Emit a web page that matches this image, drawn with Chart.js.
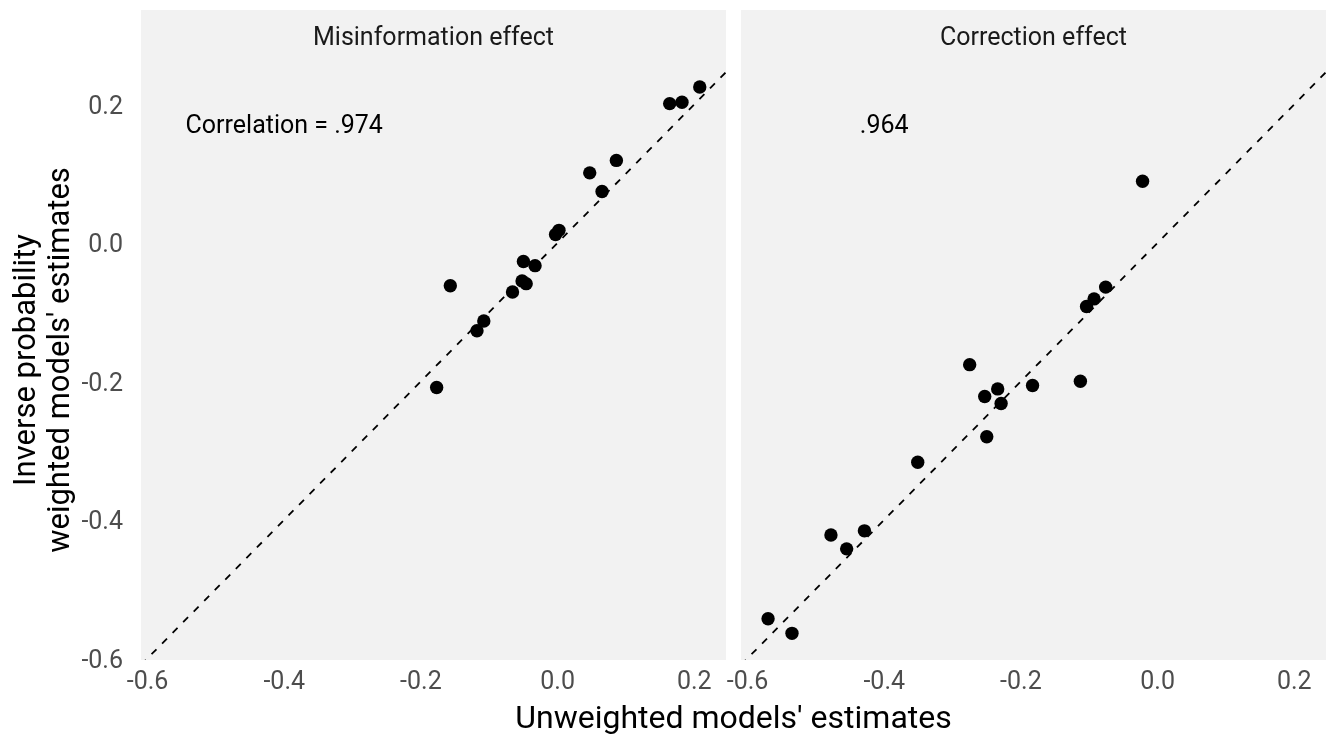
<!DOCTYPE html>
<html>
<head>
<meta charset="utf-8">
<script src="https://cdn.jsdelivr.net/npm/chart.js@4/dist/chart.umd.min.js"></script>
<style>
  body { margin: 0; background: #fff; }
  #wrap { position: relative; width: 1327px; height: 736px; overflow: hidden; }
  canvas { position: absolute; top: 0; }
  #c1 { left: 0; }
  #c2 { left: 700px; }
  #xTitle {
    position: absolute; left: 141px; width: 1185px; top: 699px;
    text-align: center; font: 32px Roboto, sans-serif; line-height: 36px; color: #000;
  }
</style>
</head>
<body>
<div id="wrap">
  <canvas id="c1" width="726" height="736"></canvas>
  <canvas id="c2" width="627" height="736"></canvas>
  <div id="xTitle">Unweighted models' estimates</div>
</div>
<script>
// Estimativas por estudo: modelo sem pesos (x) vs. ponderado por IPW (y)
const misX = [0.208, 0.164, 0.182, 0.047, 0.086, 0.065, 0.002, -0.003, -0.050, -0.033, -0.157, -0.052, -0.046, -0.066, -0.108, -0.118, -0.177];
const misY = [0.225, 0.201, 0.203, 0.101, 0.119, 0.074, 0.018, 0.012, -0.027, -0.033, -0.062, -0.055, -0.059, -0.071, -0.113, -0.127, -0.209];
const corX = [-0.275, -0.183, -0.234, -0.253, -0.229, -0.250, -0.351, -0.478, -0.429, -0.455, -0.570, -0.535, -0.022, -0.076, -0.093, -0.104, -0.113];
const corY = [-0.176, -0.206, -0.211, -0.222, -0.232, -0.280, -0.317, -0.422, -0.416, -0.442, -0.543, -0.564, 0.089, -0.064, -0.081, -0.092, -0.200];

const panelTitles = ['Misinformation effect', 'Correction effect'];
const corrLabels = ['Correlation = .974', '.964'];
const corrPos = { x: -0.4, y: 0.168 };

const xTicks = [-0.6, -0.4, -0.2, 0, 0.2];
const yTicks = [-0.6, -0.4, -0.2, 0, 0.2];
const xLim = [-0.6096, 0.2464];
const yLim = [-0.6025, 0.264];
const yTitle = ['Inverse probability', "weighted models' estimates"];

const FONT = 'Roboto';
const PANEL_BG = '#f2f2f2';
const STRIP_TOP = 10;

// fundo cinza do painel + faixa do título, e o texto da correlação
const panelPlugin = {
    id: 'panelBg',
    beforeDraw(chart) {
        const { ctx, chartArea } = chart;
        ctx.save();
        ctx.fillStyle = PANEL_BG;
        ctx.fillRect(chartArea.left, STRIP_TOP, chartArea.right - chartArea.left, chartArea.bottom - STRIP_TOP);
        ctx.restore();
    },
    afterDatasetsDraw(chart, args, opts) {
        const { ctx, scales } = chart;
        ctx.save();
        ctx.font = '25px ' + FONT;
        ctx.fillStyle = '#000';
        ctx.textAlign = 'center';
        ctx.textBaseline = 'middle';
        ctx.fillText(opts.text, scales.x.getPixelForValue(corrPos.x), scales.y.getPixelForValue(corrPos.y));
        ctx.restore();
    }
};

function makePanel(id, idx, xs, ys, showY, padLeft, padRight) {
    const pts = xs.map((x, i) => ({ x: x, y: ys[i] }));
    return new Chart(document.getElementById(id), {
        type: 'scatter',
        data: {
            datasets: [
                {
                    data: pts,
                    backgroundColor: '#000',
                    borderWidth: 0,
                    pointRadius: 6.7,
                    pointHoverRadius: 6.7
                },
                {
                    type: 'line',
                    // linha de referência y = x
                    data: [{ x: xLim[0], y: xLim[0] }, { x: xLim[1], y: xLim[1] }],
                    borderColor: '#000',
                    borderWidth: 1.8,
                    borderDash: [7, 8],
                    pointRadius: 0,
                    fill: false,
                    clip: 0
                }
            ]
        },
        options: {
            responsive: false,
            animation: false,
            layout: { autoPadding: false, padding: { top: STRIP_TOP, left: padLeft, right: padRight, bottom: 0 } },
            scales: {
                x: {
                    type: 'linear',
                    min: xLim[0],
                    max: xLim[1],
                    afterBuildTicks: s => { s.ticks = xTicks.map(v => ({ value: v })); },
                    afterFit: s => { s.height = 76; },
                    grid: { display: false, drawTicks: false },
                    border: { display: false },
                    ticks: {
                        color: '#4d4d4d',
                        font: { family: FONT, size: 25 },
                        padding: 8,
                        maxRotation: 0,
                        callback: v => v.toFixed(1)
                    }
                },
                y: {
                    type: 'linear',
                    display: showY,
                    min: yLim[0],
                    max: yLim[1],
                    afterBuildTicks: s => { s.ticks = yTicks.map(v => ({ value: v })); },
                    afterFit: s => { s.width = showY ? 141 : 0; },
                    grid: { display: false, drawTicks: false },
                    border: { display: false },
                    ticks: {
                        color: '#4d4d4d',
                        font: { family: FONT, size: 25 },
                        padding: 18,
                        labelOffset: 3,
                        callback: v => v.toFixed(1)
                    },
                    title: {
                        display: true,
                        text: yTitle,
                        color: '#000',
                        font: { family: FONT, size: 31, lineHeight: 1.1 },
                        padding: { top: 10, bottom: 0 }
                    }
                }
            },
            plugins: {
                legend: { display: false },
                tooltip: { enabled: false },
                title: {
                    display: true,
                    fullSize: false,
                    text: panelTitles[idx],
                    color: '#1a1a1a',
                    font: { family: FONT, size: 25, weight: 'normal', lineHeight: 1.2 },
                    padding: { top: 14, bottom: 6 }
                },
                panelBg: { text: corrLabels[idx] }
            }
        },
        plugins: [panelPlugin]
    });
}

makePanel('c1', 0, misX, misY, true, 0, 0);
makePanel('c2', 1, corX, corY, false, 41, 1);
</script>
</body>
</html>
